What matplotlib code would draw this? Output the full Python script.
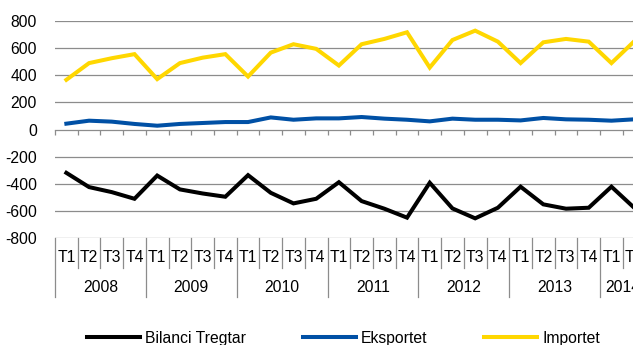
import matplotlib
matplotlib.use("Agg")
import matplotlib.pyplot as plt
import matplotlib.transforms as mtransforms
import numpy as np

plt.rcParams['font.family'] = ['Liberation Sans', 'DejaVu Sans']

years = ["2008", "2009", "2010", "2011", "2012", "2013", "2014"]
quarters_per_year = [4, 4, 4, 4, 4, 4, 2]
quarter_labels = ["T1", "T2", "T3", "T4"]

bilanci = [-318, -423, -460, -509, -338, -440, -470, -494,
           -335, -465, -543, -509, -387, -526, -582, -648,
           -391, -580, -653, -575, -420, -550, -582, -575,
           -420, -575]
eksportet = [44, 66, 59, 42, 29, 42, 49, 56,
             56, 90, 73, 83, 83, 93, 81, 73,
             61, 81, 73, 73, 68, 86, 76, 73,
             66, 76]
importet = [367, 490, 526, 556, 372, 490, 530, 556,
            391, 567, 629, 595, 472, 629, 668, 717,
            457, 660, 729, 648, 490, 643, 668, 648,
            490, 650]

series_names = ["Bilanci Tregtar", "Eksportet", "Importet"]
colors = ["#000000", "#0050A5", "#FFD700"]
yticks = [-800, -600, -400, -200, 0, 200, 400, 600, 800]

W, H = 633, 345
fig = plt.figure(figsize=(W / 100, H / 100), dpi=100)
left_px, right_px, top_px, bot_px = 55, 645.5, 21, 238.3
ax = fig.add_axes([left_px / W, 1 - bot_px / H, (right_px - left_px) / W, (bot_px - top_px) / H])

n = len(bilanci)
x = np.arange(n)
FS = 11.3
grid_col = "#8C8C8C"

for vals, name, c in zip([bilanci, eksportet, importet], series_names, colors):
    ax.plot(x, vals, color=c, lw=2.9, label=name, solid_joinstyle='miter', zorder=3)

ax.set_xlim(-0.5, n - 0.5)
ax.set_ylim(-800, 800)
ax.set_yticks(yticks)
ax.set_yticklabels([str(v) for v in yticks], fontsize=FS)
ax.tick_params(axis='y', length=0, pad=13)
for v in yticks:
    if v != 0:
        ax.axhline(v, color=grid_col, lw=0.9, zorder=1)

for s in ['top', 'right', 'left']:
    ax.spines[s].set_visible(False)
ax.spines['bottom'].set_position(('data', 0))
ax.spines['bottom'].set_color(grid_col)
ax.spines['bottom'].set_linewidth(0.9)
ax.set_xticks(np.arange(n + 1) - 0.5)
ax.set_xticklabels([])
ax.tick_params(axis='x', direction='out', length=3.5, width=0.9, color=grid_col)

# category table under the plot
trans = mtransforms.blended_transform_factory(ax.transData, ax.transAxes)
ax_h = bot_px - top_px
y_q = -(257 - bot_px) / ax_h
y_y = -(287.3 - bot_px) / ax_h
y_qsep = -(267.7 - bot_px) / ax_h
y_ysep = -(296.7 - bot_px) / ax_h

k = 0
year_starts = []
for yr, nq in zip(years, quarters_per_year):
    year_starts.append(k)
    for q in range(nq):
        ax.text(k, y_q, quarter_labels[q], transform=trans, ha='center', va='center',
                fontsize=FS, clip_on=False)
        if q > 0:
            ax.plot([k - 0.5, k - 0.5], [0, y_qsep], transform=trans, color=grid_col,
                    lw=0.9, clip_on=False)
        k += 1
    ax.text(year_starts[-1] + (nq - 1) / 2, y_y, yr, transform=trans, ha='center',
            va='center', fontsize=FS, clip_on=False)
    ax.plot([year_starts[-1] - 0.5] * 2, [0, y_ysep], transform=trans, color=grid_col,
            lw=0.9, clip_on=False)
ax.plot([k - 0.5] * 2, [0, y_ysep], transform=trans, color=grid_col, lw=0.9, clip_on=False)

fig.legend(loc='center', bbox_to_anchor=(343.5 / W, 1 - 338 / H), ncol=3, frameon=False,
           fontsize=FS, handlelength=3.4, handletextpad=0.32, columnspacing=3.6,
           borderpad=0, borderaxespad=0)

fig.savefig("out.png", dpi=100)
